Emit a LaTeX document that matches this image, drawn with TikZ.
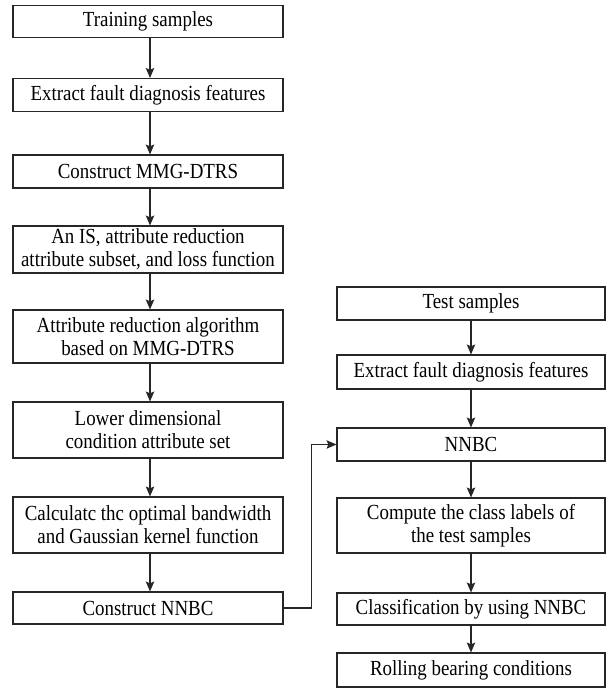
\documentclass[tikz,border=0pt]{standalone}
\usepackage{fontspec}
\setmainfont{Liberation Serif}
\newfontfamily\figfont[FakeStretch=0.88]{Liberation Serif}
\usetikzlibrary{arrows.meta}
\begin{document}
\begin{tikzpicture}[x=1pt,y=-1pt,
  lbox/.style={draw=black!85, line width=1.1pt, minimum width=270pt, inner sep=0pt, align=center,
     font=\figfont\fontsize{21.5pt}{23pt}\selectfont},
  rbox/.style={lbox, minimum width=268pt},
  flow/.style={draw=black!85, line width=1.1pt, -{Stealth[length=10pt,width=8.5pt,inset=2pt]}}
]
\useasboundingbox (0,0) rectangle (608,698);
% left column
\node[lbox, minimum height=32pt] (L1) at (148,21.5) {Training samples};
\node[lbox, minimum height=33pt] (L2) at (148,95) {Extract fault diagnosis features};
\node[lbox, minimum height=33pt] (L3) at (148,171.5) {Construct MMG-DTRS};
\node[lbox, minimum height=47pt] (L4) at (148,249.5) {An IS, attribute reduction\\attribute subset, and loss function};
\node[lbox, minimum height=53pt] (L5) at (148,336.5) {Attribute reduction algorithm\\based on MMG-DTRS};
\node[lbox, minimum height=56pt] (L6) at (148,430) {Lower dimensional\\condition attribute set};
\node[lbox, minimum height=56pt] (L7) at (148,525) {Calculatc thc optimal bandwidth\\and Gaussian kernel function};
\node[lbox, minimum height=32pt] (L8) at (148,608) {Construct NNBC};
% right column
\node[rbox, minimum height=33pt] (R1) at (471,303.5) {Test samples};
\node[rbox, minimum height=34pt] (R2) at (471,372) {Extract fault diagnosis features};
\node[rbox, minimum height=33pt] (R3) at (471,444.5) {NNBC};
\node[rbox, minimum height=55pt] (R4) at (471,525.5) {Compute the class labels of\\the test samples};
\node[rbox, minimum height=32pt] (R5) at (471,609) {Classification by using NNBC};
\node[rbox, minimum height=34pt] (R6) at (471,670) {Rolling bearing conditions};
% connectors
\foreach \a/\b in {L1/L2,L2/L3,L3/L4,L4/L5,L5/L6,L6/L7,L7/L8}
  \draw[flow] ([xshift=2pt]\a.south) -- ([xshift=2pt]\b.north);
\foreach \a/\b in {R1/R2,R2/R3,R3/R4,R4/R5,R5/R6}
  \draw[flow] (\a.south) -- (\b.north);
\draw[flow] (L8.east) -- ++(28,0) |- (R3.west);
\end{tikzpicture}
\end{document}
